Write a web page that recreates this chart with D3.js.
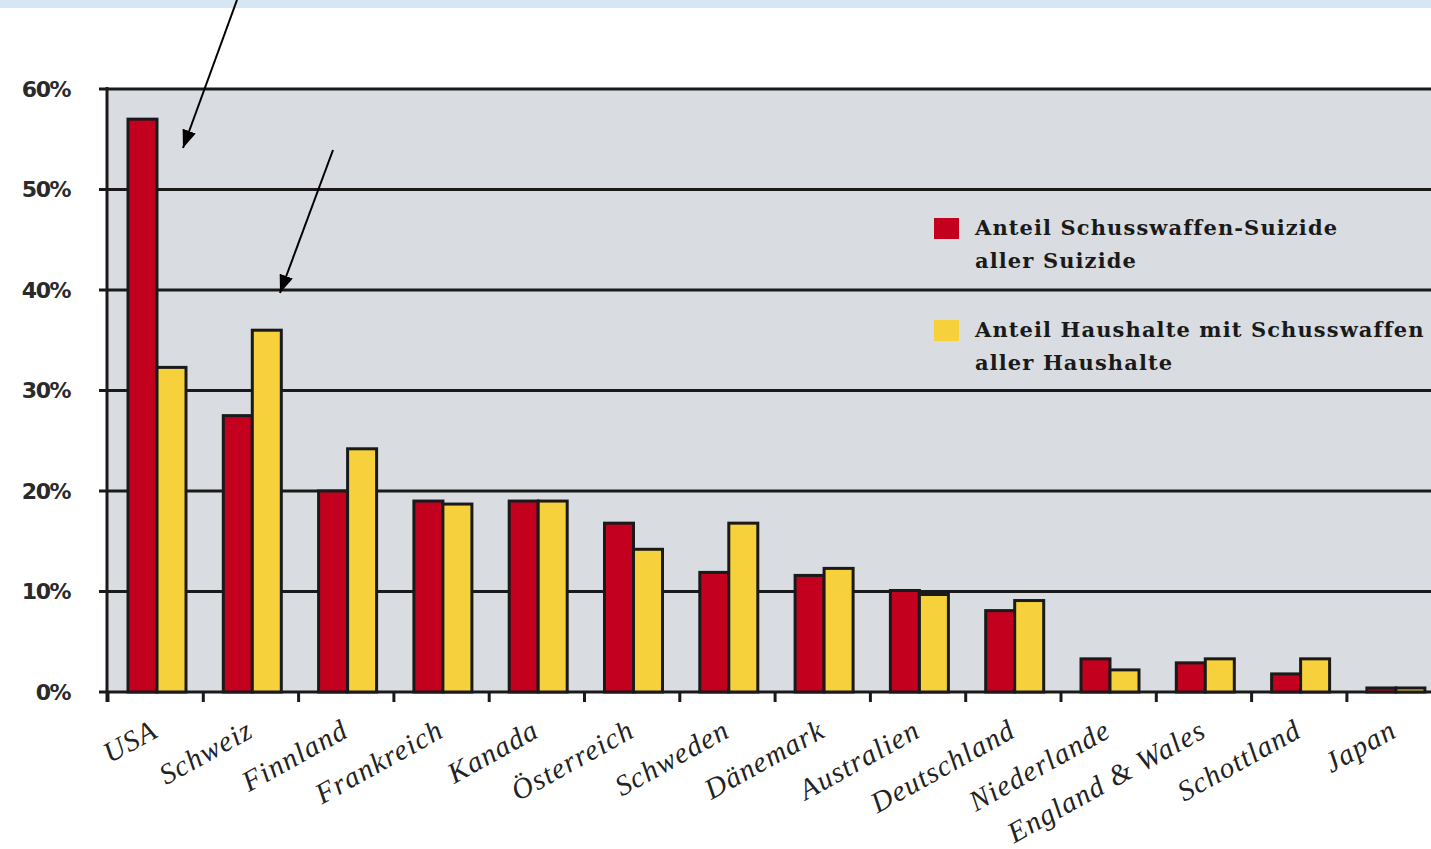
<!DOCTYPE html>
<html>
<head>
<meta charset="utf-8">
<script src="https://cdn.jsdelivr.net/npm/d3@7"></script>
<style>
  body { margin: 0; background: #fff; }
  svg { display: block; }
</style>
</head>
<body>
<svg id="chart"></svg>
<script>
const countries = ['USA', 'Schweiz', 'Finnland', 'Frankreich', 'Kanada', 'Österreich', 'Schweden',
  'Dänemark', 'Australien', 'Deutschland', 'Niederlande', 'England & Wales', 'Schottland', 'Japan'];
// Anteil Schusswaffen-Suizide aller Suizide (%)
const suicides = [57, 27.5, 20, 19, 19, 16.8, 11.9, 11.6, 10.1, 8.1, 3.3, 2.9, 1.8, 0.4];
// Anteil Haushalte mit Schusswaffen aller Haushalte (%)
const households = [32.3, 36, 24.2, 18.7, 19, 14.2, 16.8, 12.3, 9.7, 9.1, 2.2, 3.3, 3.3, 0.4];
const yTicks = [0, 10, 20, 30, 40, 50, 60];
const legendLabels = [
  ['Anteil Schusswaffen-Suizide', 'aller Suizide'],
  ['Anteil Haushalte mit Schusswaffen', 'aller Haushalte']
];
const colors = ['#c4001f', '#f7d13c'];

const W = 1431, H = 849;
const plotLeft = 107, plotTop = 89, plotBottom = 692;

const svg = d3.select('#chart').attr('width', W).attr('height', H);

// top strip
svg.append('rect').attr('x', 0).attr('y', 0).attr('width', W).attr('height', 8).attr('fill', '#d6e6f3');

const xScale0 = d3.scaleBand()
  .domain(countries)
  .range([108, 108 + 95.3 * countries.length]);

const xScale1 = d3.scaleBand()
  .domain(d3.range(2))
  .range([20, 78]);

const yScale = d3.scaleLinear()
  .domain([0, 60])
  .range([plotBottom, plotTop]);

// plot background
svg.append('rect')
  .attr('x', plotLeft).attr('y', plotTop)
  .attr('width', W - plotLeft).attr('height', plotBottom - plotTop)
  .attr('fill', '#d9dce1');

// grid lines
svg.append('g')
  .selectAll('line')
  .data(yTicks)
  .enter().append('line')
    .attr('x1', 99).attr('x2', W)
    .attr('y1', d => yScale(d)).attr('y2', d => yScale(d))
    .attr('stroke', '#1a1a1a').attr('stroke-width', 3);

// y labels
const yAxis = d3.axisLeft(yScale).tickValues(yTicks).tickSize(0).tickPadding(0)
  .tickFormat(d => d + '%');
const yg = svg.append('g')
  .attr('transform', 'translate(70,0)')
  .call(yAxis);
yg.select('.domain').remove();
yg.selectAll('text')
  .attr('font-family', 'DejaVu Sans, sans-serif')
  .attr('font-weight', 'bold')
  .attr('font-size', 22)
  .attr('letter-spacing', '-1.5px')
  .attr('fill', '#2a2a2a');

// bars
svg.append('g')
  .selectAll('g')
  .data(countries)
  .enter().append('g')
    .attr('transform', d => 'translate(' + xScale0(d) + ',0)')
    .selectAll('rect')
    .data((d, i) => [suicides[i], households[i]])
    .enter().append('rect')
      .attr('x', (d, j) => xScale1(j))
      .attr('y', d => yScale(d))
      .attr('width', xScale1.bandwidth())
      .attr('height', d => plotBottom - yScale(d))
      .attr('fill', (d, j) => colors[j])
      .attr('stroke', '#1a1a1a')
      .attr('stroke-width', 3);

// y axis line
svg.append('line')
  .attr('x1', plotLeft).attr('x2', plotLeft).attr('y1', plotTop - 2).attr('y2', plotBottom + 10)
  .attr('stroke', '#1a1a1a').attr('stroke-width', 3);

// x ticks
svg.append('g')
  .selectAll('line')
  .data(countries)
  .enter().append('line')
    .attr('x1', d => xScale0(d)).attr('x2', d => xScale0(d))
    .attr('y1', plotBottom).attr('y2', plotBottom + 10)
    .attr('stroke', '#1a1a1a').attr('stroke-width', 3);

// x labels
svg.append('g')
  .selectAll('text')
  .data(countries)
  .enter().append('text')
    .attr('transform', d => 'translate(' + (xScale0(d) + xScale0.bandwidth() / 2 + 4) + ',' + 736 + ') rotate(-29)')
    .attr('text-anchor', 'end')
    .attr('font-family', 'Liberation Serif, serif')
    .attr('font-style', 'italic')
    .attr('font-size', 29)
    .attr('letter-spacing', '1.2px')
    .attr('fill', '#222')
    .text(d => d);

// legend
const legend = svg.append('g')
  .selectAll('g')
  .data(legendLabels)
  .enter().append('g')
    .attr('transform', (d, i) => 'translate(934,' + (218 + i * 102) + ')');

legend.append('rect')
  .attr('width', 25).attr('height', 21)
  .attr('fill', (d, i) => colors[i]);

legend.append('text')
  .attr('x', 41)
  .attr('y', 17)
  .attr('font-family', 'DejaVu Serif, serif')
  .attr('font-weight', 'bold')
  .attr('font-size', 21)
  .attr('letter-spacing', '1.1px')
  .attr('fill', '#1a1a1a')
  .selectAll('tspan')
  .data(d => d)
  .enter().append('tspan')
    .attr('x', 41)
    .attr('dy', (d, i) => i === 0 ? 0 : 33)
    .text(d => d);

// annotation arrows
svg.append('defs').append('marker')
  .attr('id', 'head')
  .attr('viewBox', '0 0 18 14')
  .attr('refX', 18).attr('refY', 7)
  .attr('markerWidth', 18).attr('markerHeight', 14)
  .attr('markerUnits', 'userSpaceOnUse')
  .attr('orient', 'auto')
  .append('path')
    .attr('d', 'M0,0 L18,7 L0,14 Z')
    .attr('fill', '#000');

const arrows = [[237, 0, 183, 148], [333, 150, 280, 293]];
svg.append('g')
  .selectAll('line')
  .data(arrows)
  .enter().append('line')
    .attr('x1', d => d[0]).attr('y1', d => d[1])
    .attr('x2', d => d[2]).attr('y2', d => d[3])
    .attr('stroke', '#000').attr('stroke-width', 2)
    .attr('marker-end', 'url(#head)');
</script>
</body>
</html>
